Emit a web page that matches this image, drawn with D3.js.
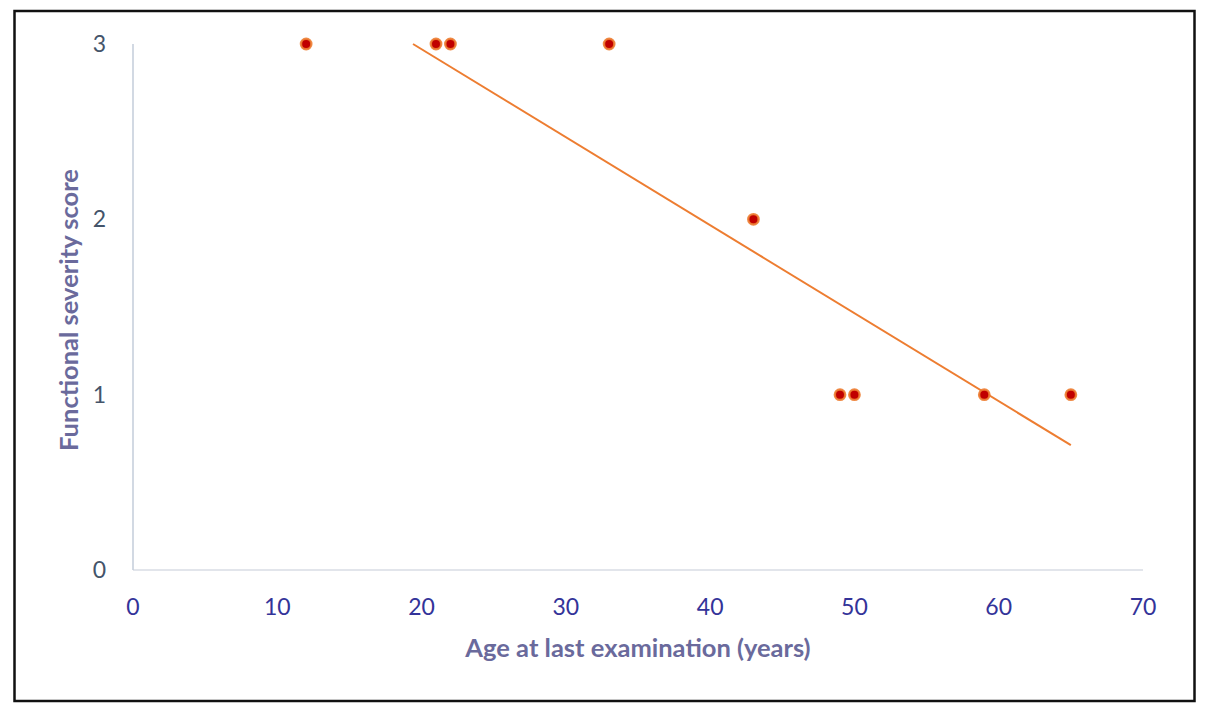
<html lang="en">
<head>
  <meta charset="UTF-8" />
  <title>Functional severity vs age</title>
  <style>
    body { margin: 0; background: #fff; }
    svg text { font-family: Lato, "Open Sans", sans-serif; }
  </style>
</head>
<body>
  <svg width="1209" height="716"></svg>

  <script src="https://d3js.org/d3.v7.min.js"></script>
  <script>
    // age at last examination (years) and functional severity score
    const ages = [12, 21, 22, 33, 43, 49, 50, 59, 65];
    const scores = [3, 3, 3, 3, 2, 1, 1, 1, 1];
    const xTicks = [0, 10, 20, 30, 40, 50, 60, 70];
    const yTicks = [0, 1, 2, 3];

    const svg = d3.select("svg");

    // outer frame
    svg.append("rect")
      .attr("x", 14.5).attr("y", 11)
      .attr("width", 1180).attr("height", 690)
      .attr("fill", "#fff")
      .attr("stroke", "#111")
      .attr("stroke-width", 2.5);

    const x = d3.scaleLinear().domain([0, 70]).range([133, 1143]);
    const y = d3.scaleLinear().domain([0, 3]).range([570, 44]);

    // axis lines
    svg.append("line")
      .attr("x1", x(0)).attr("x2", x(70))
      .attr("y1", y(0)).attr("y2", y(0))
      .attr("stroke", "#d9dde4").attr("stroke-width", 1.5);
    svg.append("line")
      .attr("x1", x(0)).attr("x2", x(0))
      .attr("y1", y(0)).attr("y2", y(3))
      .attr("stroke", "#c3cdda").attr("stroke-width", 1.5);

    svg.append("g")
      .selectAll("text")
      .data(xTicks)
      .join("text")
      .attr("x", d => x(d))
      .attr("y", 607)
      .attr("dy", "0.35em")
      .attr("text-anchor", "middle")
      .attr("font-size", 23)
      .attr("fill", "#333399")
      .text(d => d);

    svg.append("g")
      .selectAll("text")
      .data(yTicks)
      .join("text")
      .attr("x", 106)
      .attr("y", d => y(d))
      .attr("dy", "0.35em")
      .attr("text-anchor", "end")
      .attr("font-size", 23)
      .attr("fill", "#44546a")
      .text(d => d);

    // least squares trend line, clipped to the plot area
    const mx = d3.mean(ages), my = d3.mean(scores);
    const slope = d3.sum(ages, (a, i) => (a - mx) * (scores[i] - my)) /
                  d3.sum(ages, a => (a - mx) * (a - mx));
    const icpt = my - slope * mx;
    const xStart = Math.max(d3.min(ages), (3 - icpt) / slope);
    const xEnd = d3.max(ages);

    svg.append("line")
      .attr("x1", x(xStart)).attr("y1", y(icpt + slope * xStart))
      .attr("x2", x(xEnd)).attr("y2", y(icpt + slope * xEnd))
      .attr("stroke", "#ed7d31")
      .attr("stroke-width", 2);

    svg.append("g")
      .selectAll("circle")
      .data(ages)
      .join("circle")
      .attr("cx", d => x(d))
      .attr("cy", (d, i) => y(scores[i]))
      .attr("r", 5.2)
      .attr("fill", "#c00000")
      .attr("stroke", "#ed7d31")
      .attr("stroke-opacity", 0.9)
      .attr("stroke-width", 2.4);

    svg.append("text")
      .attr("x", 638)
      .attr("y", 657)
      .attr("text-anchor", "middle")
      .attr("font-size", 25.5)
      .attr("font-weight", "bold")
      .attr("fill", "#6a6a9c")
      .text("Age at last examination (years)");

    svg.append("text")
      .attr("transform", "translate(78,310) rotate(-90)")
      .attr("text-anchor", "middle")
      .attr("font-size", 25.5)
      .attr("font-weight", "bold")
      .attr("fill", "#6a6a9c")
      .text("Functional severity score");
  </script>
</body>
</html>
